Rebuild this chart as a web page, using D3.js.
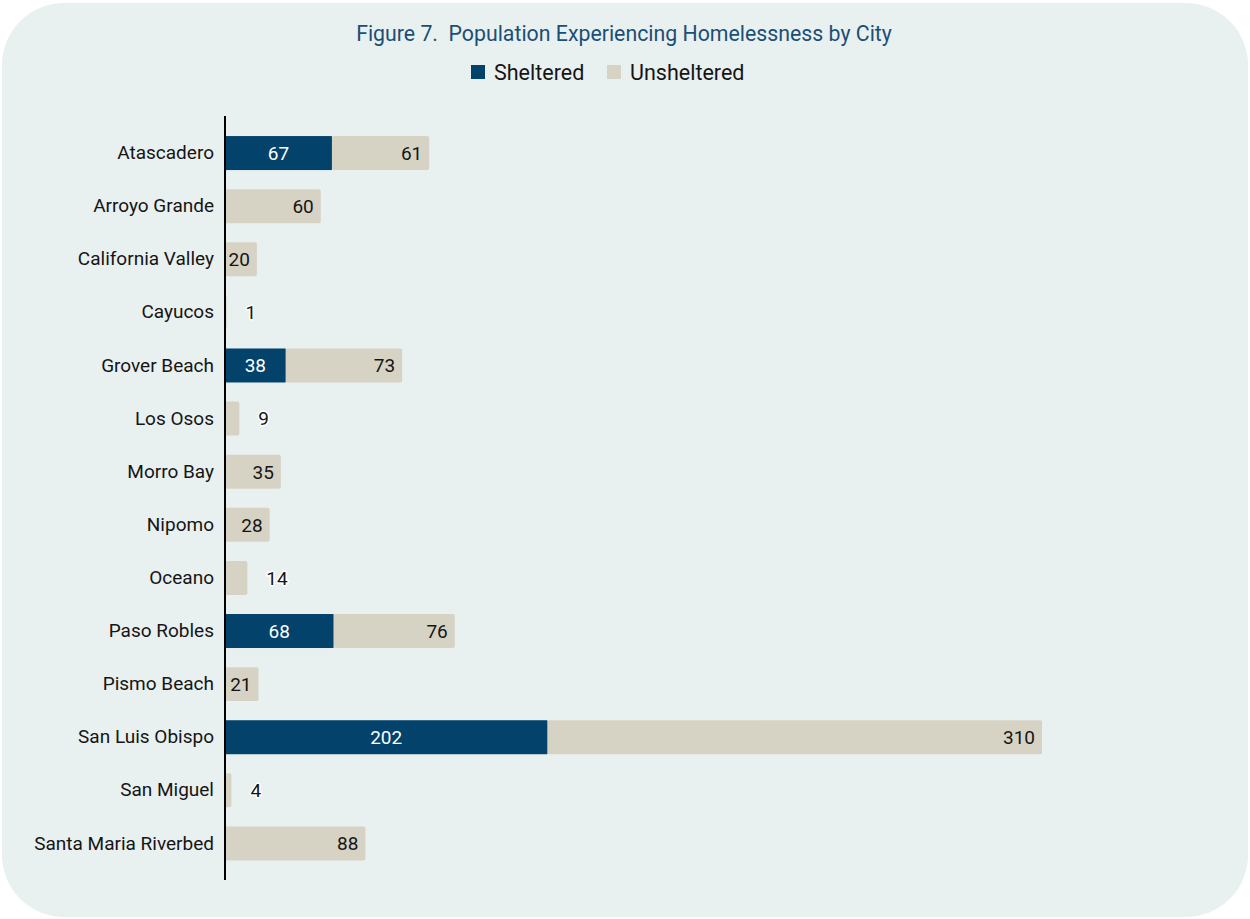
<!DOCTYPE html>
<html>
<head>
<meta charset="utf-8">
<script src="https://cdn.jsdelivr.net/npm/d3@7/dist/d3.min.js"></script>
<style>
  html, body { margin: 0; padding: 0; background: #ffffff; }
  svg { display: block; font-family: Roboto, "Noto Sans", sans-serif; }
</style>
</head>
<body>
<svg id="chart" width="1250" height="919"></svg>
<script>
// Homelessness point-in-time counts by city
const cities = [
  "Atascadero", "Arroyo Grande", "California Valley", "Cayucos", "Grover Beach",
  "Los Osos", "Morro Bay", "Nipomo", "Oceano", "Paso Robles", "Pismo Beach",
  "San Luis Obispo", "San Miguel", "Santa Maria Riverbed"
];
const sheltered   = [67, 0, 0, 0, 38, 0, 0, 0, 0, 68, 0, 202, 0, 0];
const unsheltered = [61, 60, 20, 1, 73, 9, 35, 28, 14, 76, 21, 310, 4, 88];
const seriesNames = ["Sheltered", "Unsheltered"];
const seriesColors = ["#02426b", "#d6d3c5"];

const svg = d3.select("#chart");
const W = 1250, H = 919;

// Rounded background panel
svg.append("rect")
  .attr("x", 2).attr("y", 3)
  .attr("width", W - 4).attr("height", H - 5)
  .attr("rx", 62).attr("ry", 62)
  .attr("fill", "#e9f0f0");

// Title
svg.append("text")
  .attr("x", 624).attr("y", 41)
  .attr("text-anchor", "middle")
  .attr("font-size", 21.3)
  .attr("fill", "#1b4f75")
  .style("white-space", "pre")
  .text("Figure 7.  Population Experiencing Homelessness by City");

// Legend
const legend = svg.append("g");
const legendItems = [{ x: 471, tx: 494 }, { x: 607, tx: 630 }];
seriesNames.forEach((name, i) => {
  legend.append("rect")
    .attr("x", legendItems[i].x).attr("y", 65)
    .attr("width", 14).attr("height", 14)
    .attr("fill", seriesColors[i]);
  legend.append("text")
    .attr("x", legendItems[i].tx).attr("y", 79.5)
    .attr("font-size", 21.5)
    .attr("fill", "#151515")
    .text(name);
});

// Scales
const rows = cities.map((c, i) => ({ city: c, s: sheltered[i], u: unsheltered[i] }));
const x0 = 225;
const x = d3.scaleLinear()
  .domain([0, d3.max(rows, d => d.s + d.u)])
  .range([x0, 1042]);
const y = d3.scaleBand()
  .domain(cities)
  .range([126.5, 870])
  .paddingInner(0.36)
  .paddingOuter(0.18);

const g = svg.append("g");
const fontSize = 19;

// Unsheltered segment (drawn beneath, with softly rounded end)
g.selectAll("rect.unsh")
  .data(rows)
  .join("rect")
  .attr("class", "unsh")
  .attr("x", d => x(d.s))
  .attr("y", d => y(d.city))
  .attr("width", d => x(d.s + d.u) - x(d.s))
  .attr("height", y.bandwidth())
  .attr("rx", 2)
  .attr("fill", seriesColors[1]);

// Sheltered segment
g.selectAll("rect.sh")
  .data(rows.filter(d => d.s > 0))
  .join("rect")
  .attr("class", "sh")
  .attr("x", x(0))
  .attr("y", d => y(d.city))
  .attr("width", d => x(d.s) - x(0))
  .attr("height", y.bandwidth())
  .attr("fill", seriesColors[0]);

// Sheltered value labels, centred in the segment
g.selectAll("text.shv")
  .data(rows.filter(d => d.s > 0))
  .join("text")
  .attr("class", "shv")
  .attr("x", d => (x(0) + x(d.s)) / 2)
  .attr("y", d => y(d.city) + y.bandwidth() / 2)
  .attr("dy", "0.36em")
  .attr("text-anchor", "middle")
  .attr("font-size", fontSize)
  .attr("fill", "#ffffff")
  .text(d => d.s);

// Unsheltered value labels: inside the bar end when it fits, else just past it
const approxWidth = v => String(v).length * fontSize * 0.56;
g.selectAll("text.uv")
  .data(rows)
  .join("text")
  .attr("class", "uv")
  .attr("y", d => y(d.city) + y.bandwidth() / 2)
  .attr("dy", "0.36em")
  .attr("font-size", fontSize)
  .attr("fill", "#151515")
  .each(function (d) {
    const w = x(d.s + d.u) - x(d.s);
    const inside = w >= approxWidth(d.u) + 10;
    const t = d3.select(this);
    if (inside) {
      t.attr("x", x(d.s + d.u) - 7).attr("text-anchor", "end");
    } else {
      t.attr("x", x(d.s + d.u) + 19).attr("text-anchor", "start")
        .attr("stroke", "#ffffff").attr("stroke-width", 3)
        .attr("stroke-linejoin", "round").attr("paint-order", "stroke");
    }
  })
  .text(d => d.u);

// Category axis
const axis = d3.axisLeft(y).tickSize(0).tickPadding(11);
const ag = svg.append("g")
  .attr("transform", `translate(${x0},0)`)
  .call(axis);
ag.select(".domain").remove();
ag.selectAll("text")
  .attr("font-size", fontSize)
  .attr("font-family", "Roboto, 'Noto Sans', sans-serif")
  .attr("fill", "#151515");

svg.append("line")
  .attr("x1", x0).attr("x2", x0)
  .attr("y1", 116).attr("y2", 880)
  .attr("stroke", "#000000")
  .attr("stroke-width", 2);
</script>
</body>
</html>
